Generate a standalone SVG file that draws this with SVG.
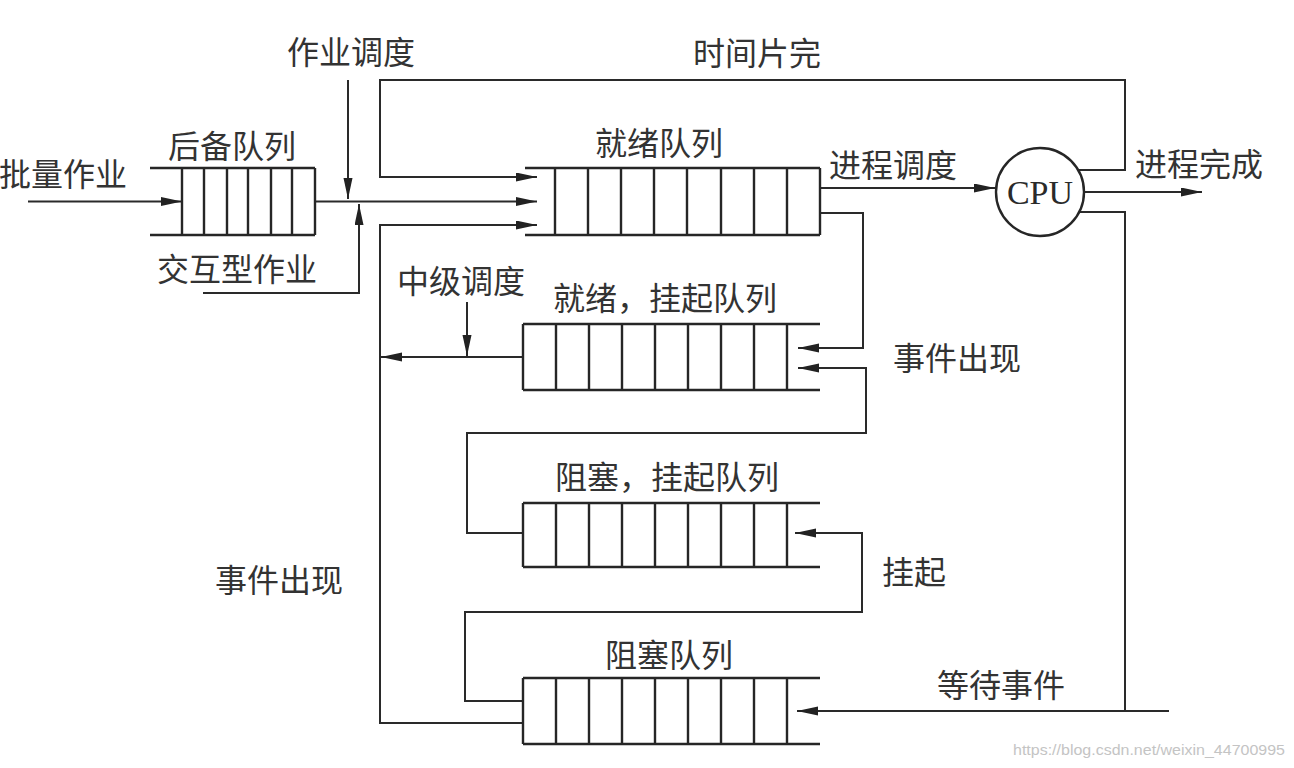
<svg xmlns="http://www.w3.org/2000/svg" width="1294" height="768" viewBox="0 0 1294 768">
<style>
  .q { fill: none; stroke: #262626; stroke-width: 2.4; }
  .c { fill: none; stroke: #2a2a2a; stroke-width: 2; }
  .t { font-family: "Noto Sans CJK SC", "Noto Sans", sans-serif; font-size: 32px; fill: #333; }
  .cpu { font-family: "Liberation Serif", "DejaVu Serif", serif; font-size: 34px; fill: #2a2a2a; }
  .wm { font-family: "Liberation Sans", Arial, sans-serif; font-size: 15px; fill: #c4c4c4; }
</style>
<defs>
  <marker id="arr" markerUnits="userSpaceOnUse" markerWidth="22" markerHeight="10" refX="21" refY="4.5" orient="auto">
    <path d="M0,0 L21,4.5 L0,9 Z" fill="#222"/>
  </marker>
</defs>
<rect width="1294" height="768" fill="#ffffff"/>

<g id="connectors">
  <!-- batch job into backup queue -->
  <path class="c" d="M28,201.5 H182" marker-end="url(#arr)"/>
  <!-- backup queue to ready queue -->
  <path class="c" d="M315,201.5 H537" marker-end="url(#arr)"/>
  <!-- job scheduling -->
  <path class="c" d="M348,80 V199" marker-end="url(#arr)"/>
  <!-- interactive job -->
  <path class="c" d="M203,293 H359 V204" marker-end="url(#arr)"/>
  <!-- time slice over -->
  <path class="c" d="M1079,170 H1125 V80 H380 V177 H537" marker-end="url(#arr)"/>
  <!-- process scheduling -->
  <path class="c" d="M820,188 H995" marker-end="url(#arr)"/>
  <!-- process finished -->
  <path class="c" d="M1084,192 H1202" marker-end="url(#arr)"/>
  <!-- wait event -->
  <path class="c" d="M1079,212 H1125 V711"/>
  <path class="c" d="M1169,711 H797" marker-end="url(#arr)"/>
  <!-- ready -> ready,suspended -->
  <path class="c" d="M820,213 H863 V348 H798" marker-end="url(#arr)"/>
  <!-- blocked,suspended -> ready,suspended (event occurs) -->
  <path class="c" d="M523,533 H467 V433 H866 V368 H798" marker-end="url(#arr)"/>
  <!-- ready,suspended -> ready (medium-term scheduling) -->
  <path class="c" d="M523,357 H381" marker-end="url(#arr)"/>
  <path class="c" d="M467,302 V356" marker-end="url(#arr)"/>
  <!-- blocked -> ready (event occurs) -->
  <path class="c" d="M523,723 H380 V225 H537" marker-end="url(#arr)"/>
  <!-- blocked -> blocked,suspended (suspend) -->
  <path class="c" d="M523,701 H465 V612 H862 V533 H795" marker-end="url(#arr)"/>
</g>

<g id="backup-queue">
  <path class="q" d="M150,168 H315 M150,235 H315 M182,168 V235 M204,168 V235 M227,168 V235 M248,168 V235 M271,168 V235 M292,168 V235 M315,168 V235"/>
  <text class="t" x="168" y="158">后备队列</text>
</g>

<g id="ready-queue">
  <path class="q" d="M525,168 H820 M525,235 H820 M555,168 V235 M588,168 V235 M621,168 V235 M654,168 V235 M687,168 V235 M721,168 V235 M754,168 V235 M787,168 V235 M820,168 V235"/>
  <text class="t" x="595" y="155">就绪队列</text>
</g>

<g id="ready-suspend-queue">
  <path class="q" d="M523,324 H820 M523,390 H820 M523,324 V390 M556,324 V390 M589,324 V390 M622,324 V390 M655,324 V390 M688,324 V390 M721,324 V390 M754,324 V390 M787,324 V390"/>
  <text class="t" x="553" y="310">就绪，挂起队列</text>
</g>

<g id="blocked-suspend-queue">
  <path class="q" d="M523,503 H820 M523,567 H820 M523,503 V567 M556,503 V567 M589,503 V567 M622,503 V567 M655,503 V567 M688,503 V567 M721,503 V567 M754,503 V567 M787,503 V567"/>
  <text class="t" x="555" y="489">阻塞，挂起队列</text>
</g>

<g id="blocked-queue">
  <path class="q" d="M523,678 H820 M523,744 H820 M523,678 V744 M556,678 V744 M589,678 V744 M622,678 V744 M655,678 V744 M688,678 V744 M721,678 V744 M754,678 V744 M787,678 V744"/>
  <text class="t" x="605" y="667">阻塞队列</text>
</g>

<g id="cpu">
  <circle cx="1040" cy="192" r="44" fill="none" stroke="#262626" stroke-width="2.4"/>
  <text class="cpu" x="1040" y="204" text-anchor="middle">CPU</text>
</g>

<g id="labels">
  <text class="t" x="287" y="64">作业调度</text>
  <text class="t" x="693" y="65">时间片完</text>
  <text class="t" x="-1" y="186">批量作业</text>
  <text class="t" x="157" y="281">交互型作业</text>
  <text class="t" x="829" y="177">进程调度</text>
  <text class="t" x="1135" y="176">进程完成</text>
  <text class="t" x="397" y="293">中级调度</text>
  <text class="t" x="893" y="370">事件出现</text>
  <text class="t" x="882" y="584">挂起</text>
  <text class="t" x="215" y="592">事件出现</text>
  <text class="t" x="937" y="697">等待事件</text>
  <text class="wm" x="1013" y="755" textLength="272" lengthAdjust="spacingAndGlyphs">https://blog.csdn.net/weixin_44700995</text>
</g>
</svg>
